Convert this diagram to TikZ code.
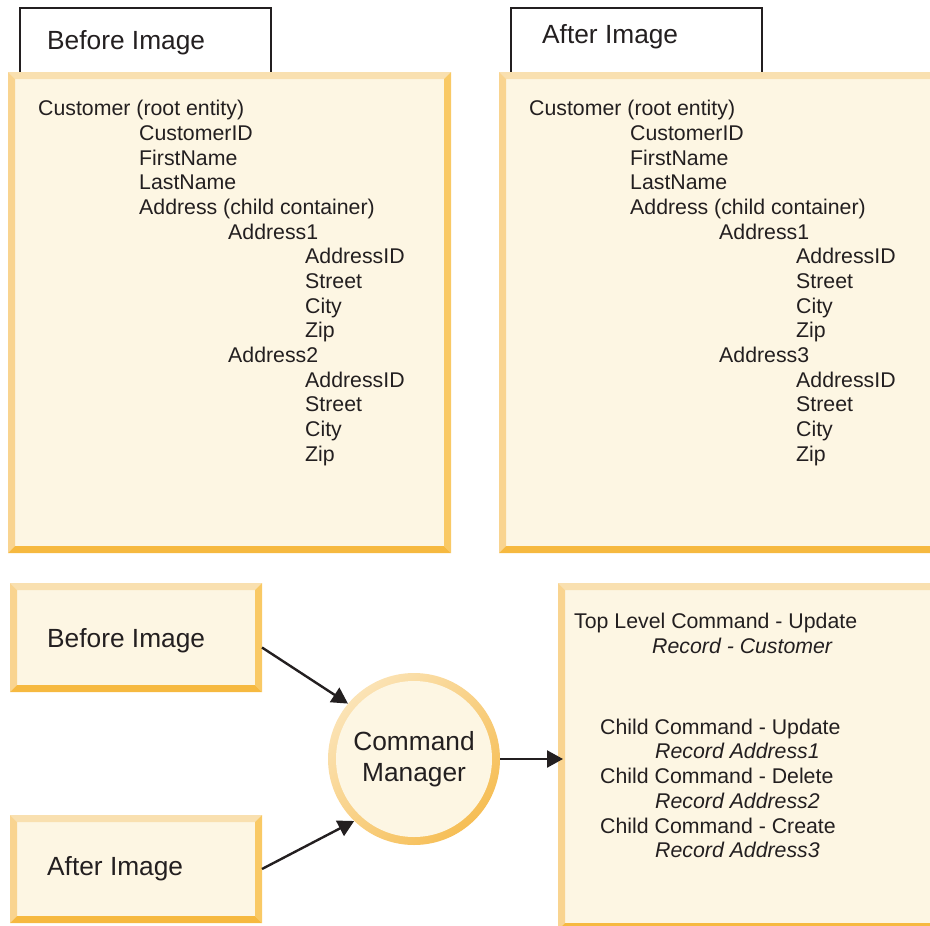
\documentclass[tikz,border=0pt]{standalone}
\usepackage{fontspec}
\setmainfont{Liberation Sans}
\usetikzlibrary{arrows.meta}
\definecolor{cream}{HTML}{FDF6E3}
\definecolor{btopc}{HTML}{F9E0B0}
\definecolor{bleftc}{HTML}{F9D490}
\definecolor{brightc}{HTML}{F9C965}
\definecolor{bbotc}{HTML}{F6B940}
\definecolor{ringlight}{HTML}{FBE3B5}
\definecolor{ringdark}{HTML}{F6BE55}
\definecolor{ink}{HTML}{231F20}
\newcommand\bevel[1]{%
 \fill[btopc] (#1.north west) -- (#1.north east) -- ([shift={(-7pt,-7pt)}]#1.north east) -- ([shift={(7pt,-7pt)}]#1.north west) -- cycle;
 \fill[bleftc] (#1.north west) -- ([shift={(7pt,-7pt)}]#1.north west) -- ([shift={(7pt,7pt)}]#1.south west) -- (#1.south west) -- cycle;
 \fill[brightc] (#1.north east) -- (#1.south east) -- ([shift={(-7pt,7pt)}]#1.south east) -- ([shift={(-7pt,-7pt)}]#1.north east) -- cycle;
 \fill[bbotc] (#1.south west) -- ([shift={(7pt,7pt)}]#1.south west) -- ([shift={(-7pt,7pt)}]#1.south east) -- (#1.south east) -- cycle;}
\newcommand\panelbox[5]{\node[panel, minimum width=#4pt, minimum height=#5pt] (#1) at (#2,#3) {}; \bevel{#1}}
\tikzset{
 panel/.style={rectangle, fill=cream, inner sep=0, outer sep=0, anchor=north west},
 tabbox/.style={rectangle, draw=ink, line width=1.6pt, fill=white, anchor=north west, inner sep=0},
 lbl/.style={anchor=base west, inner sep=0, text=ink, font=\fontsize{21.3}{25}\selectfont},
 biglbl/.style={anchor=base west, inner sep=0, text=ink, font=\fontsize{26.3}{31}\selectfont},
 conn/.style={draw=ink, line width=2.4pt, -{Triangle[length=16pt,width=17pt]}},
}
\begin{document}
\begin{tikzpicture}[x=1pt,y=-1pt]
\useasboundingbox (0,0) rectangle (930,926);
\clip (0,0) rectangle (930,926);
% tabs
\node[tabbox, minimum width=251pt, minimum height=66pt] (tabB) at (19,7) {};
\node[tabbox, minimum width=251pt, minimum height=66pt] (tabA) at (510,7) {};
\node[biglbl] (tabBt) at (47,49.5) {Before Image};
\node[biglbl] (tabAt) at (542,43.5) {After Image};
% panels
\panelbox{pB}{8}{72}{443}{481}
\panelbox{pA}{499}{72}{445}{481}
\panelbox{bi}{10}{583}{252}{109}
\panelbox{ai}{10}{815}{252}{108}
\panelbox{rb}{558}{583}{390}{347}
% before image text
\foreach \t/\x/\y [count=\i] in {Customer (root entity)/38/108, CustomerID/139/133, FirstName/139/158, LastName/139/182, Address (child container)/139/207, Address1/228/232, AddressID/305/256, Street/305/281, City/305/306, Zip/305/330, Address2/228/355, AddressID/305/380, Street/305/404, City/305/429, Zip/305/454}
  \node[lbl] (lb\i) at (\x,\y+7.5) {\t};
\foreach \t/\x/\y [count=\i] in {Customer (root entity)/529/108, CustomerID/630/133, FirstName/630/158, LastName/630/182, Address (child container)/630/207, Address1/719/232, AddressID/796/256, Street/796/281, City/796/306, Zip/796/330, Address3/719/355, AddressID/796/380, Street/796/404, City/796/429, Zip/796/454}
  \node[lbl] (la\i) at (\x,\y+7.5) {\t};
% bottom
\node[biglbl] (bit) at (47,647.5) {Before Image};
\node[biglbl] (ait) at (47,875.5) {After Image};
\shade[top color=ringlight, bottom color=ringdark, shading angle=45] (414,759) circle[radius=86pt];
\fill[cream] (414,759) circle[radius=78pt];
\node[circle, minimum size=172pt, inner sep=0, align=center, text=ink, font=\fontsize{26.3}{31}\selectfont] (cm) at (414,759) {Command\\Manager};
% right box text
\node[lbl] (r1) at (574,628.5) {Top Level Command - Update};
\node[lbl] (r2) at (652,653.5) {\itshape Record - Customer};
\node[lbl] (r3) at (600,734.5) {Child Command - Update};
\node[lbl] (r4) at (655,758.5) {\itshape Record Address1};
\node[lbl] (r5) at (600,783.5) {Child Command - Delete};
\node[lbl] (r6) at (655,808.5) {\itshape Record Address2};
\node[lbl] (r7) at (600,833.5) {Child Command - Create};
\node[lbl] (r8) at (655,857.5) {\itshape Record Address3};
% connectors
\draw[conn] ([yshift=-10pt]bi.east) -- (cm.140);
\draw[conn] (ai.east) -- (cm.226);
\draw[conn] (cm.east) -- ([xshift=5pt]cm.east -| rb.west);
\end{tikzpicture}
\end{document}
